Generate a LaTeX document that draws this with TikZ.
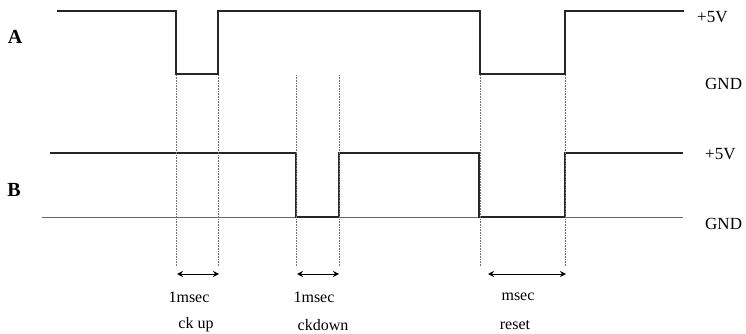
\documentclass[tikz,border=0pt]{standalone}
\usepackage{fontspec}
\setmainfont{Liberation Serif}
\usetikzlibrary{arrows.meta}
\begin{document}
\begin{tikzpicture}[x=1pt,y=-1pt,
  sig/.style={line width=1.6pt,line join=miter,black!85},
  base/.style={line width=0.8pt,black!60},
  guide/.style={line width=0.6pt,black!55,dash pattern=on 0.8pt off 0.8pt},
  span/.style={line width=1pt,{Stealth[length=6pt,width=6pt]}-{Stealth[length=6pt,width=6pt]}},
  lvl/.style={font=\fontsize{17}{19}\selectfont,inner sep=0pt},
  lbl/.style={font=\fontsize{16}{18}\selectfont,inner sep=0pt},
  chan/.style={font=\fontsize{20}{22}\selectfont\bfseries,inner sep=0pt}]
\useasboundingbox (0,0) rectangle (746,334);
% channel labels
\node[chan] (lA) at (15,37) {A};
\node[chan] (lB) at (14,190) {B};
% signal A
\draw[sig] (57,11) -- (176,11) -- (176,74) -- (218,74) -- (218,11) -- (480,11) -- (480,74) -- (565,74) -- (565,11) -- (684,11);
% signal B
\draw[base] (42,217) -- (683,217);
\draw[sig] (50,153) -- (296,153) -- (296,217) -- (339,217) -- (339,153) -- (479,153) -- (479,217) -- (565,217) -- (565,153) -- (683,153);
% level labels
\node[lvl,anchor=west] (a5) at (697,17) {+5V};
\node[lvl,anchor=west] (agnd) at (705,84) {GND};
\node[lvl,anchor=west] (b5) at (705,154) {+5V};
\node[lvl,anchor=west] (bgnd) at (705,224) {GND};
% guides
\foreach \n/\x in {g1/176,g2/218,g3/296,g4/339,g5/480,g6/565}{
  \coordinate (\n t) at (\x,75);
  \coordinate (\n b) at (\x,266);
  \draw[guide] (\n t) -- (\n b);
}
% spans
\coordinate (s1l) at (177,274); \coordinate (s1r) at (219,274);
\coordinate (s2l) at (297,274); \coordinate (s2r) at (339,274);
\coordinate (s3l) at (488,274); \coordinate (s3r) at (566,274);
\draw[span] (s1l) -- (s1r);
\draw[span] (s2l) -- (s2r);
\draw[span] (s3l) -- (s3r);
% texts
\node[lbl] (t1) at (189,297) {1msec};
\node[lbl] (c1) at (196,325) {ck up};
\node[lbl] (t2) at (314,297) {1msec};
\node[lbl] (c2) at (323,325) {ckdown};
\node[lbl] (t3) at (518,297) {msec};
\node[lbl] (c3) at (515,325) {reset};
\end{tikzpicture}
\end{document}
